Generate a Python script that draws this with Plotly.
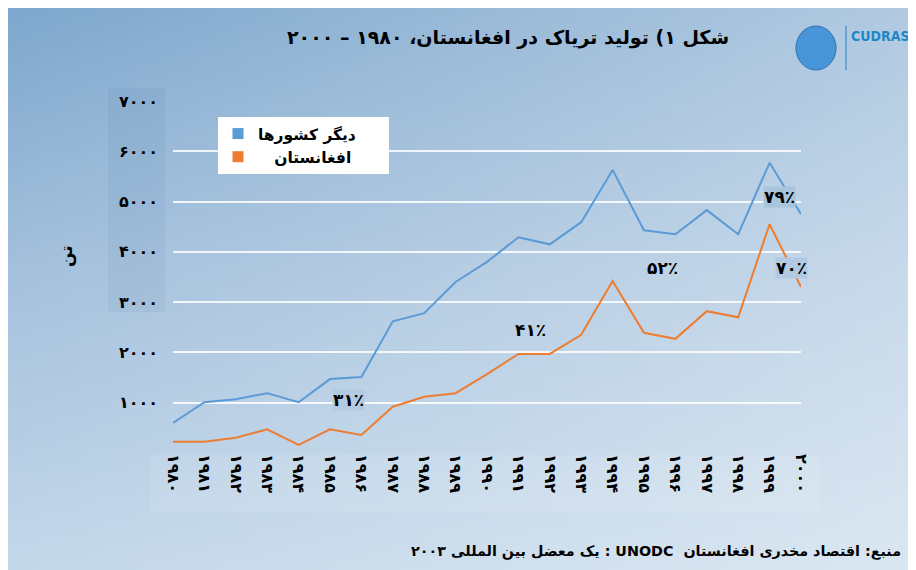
import plotly.graph_objects as go

# opium production (tons)
years = [1980, 1981, 1982, 1983, 1984, 1985, 1986, 1987, 1988, 1989, 1990,
         1991, 1992, 1993, 1994, 1995, 1996, 1997, 1998, 1999, 2000]
year_labels = ["۱۹۸۰", "۱۹۸۱", "۱۹۸۲", "۱۹۸۳", "۱۹۸۴", "۱۹۸۵", "۱۹۸۶",
               "۱۹۸۷", "۱۹۸۸", "۱۹۸۹", "۱۹۹۰", "۱۹۹۱", "۱۹۹۲", "۱۹۹۳",
               "۱۹۹۴", "۱۹۹۵", "۱۹۹۶", "۱۹۹۷", "۱۹۹۸", "۱۹۹۹", "۲۰۰۰"]
other_countries = [600, 1010, 1070, 1190, 1010, 1470, 1510, 2620, 2780, 3400, 3800,
                   4290, 4150, 4590, 5630, 4430, 4350, 4830, 4350, 5770, 4750]
afghanistan = [225, 225, 305, 470, 160, 470, 360, 920, 1120, 1190, 1570,
               1970, 1970, 2350, 3420, 2390, 2270, 2820, 2700, 4550, 3300]

y_ticks = [1000, 2000, 3000, 4000, 5000, 6000, 7000]
y_labels = ["۱۰۰۰", "۲۰۰۰", "۳۰۰۰", "۴۰۰۰", "۵۰۰۰", "۶۰۰۰", "۷۰۰۰"]

# Afghanistan share labels
share_text = ["۳۱٪", "۴۱٪", "۵۲٪", "۷۹٪", "۷۰٪"]
share_x = [1985.6, 1991.4, 1995.6, 1999.3, 1999.7]
share_y = [1050, 2450, 3680, 5090, 3680]

series_names = ["دیگر کشورها", "افغانستان"]
BLUE = "#5b9bd5"
ORANGE = "#ed7d31"
FONT = "DejaVu Sans"

W, H = 916, 570
OFF = 8  # page body margin


def px(x):
    return (x - OFF) / W


def py(y):
    return 1 - (y - OFF) / H


fig = go.Figure()

# background gradient on a full-page helper axis
fig.add_trace(go.Scatter(
    x=[0, 1, 1, 0, 0], y=[0, 0, 1, 1, 0], mode="lines", fill="toself",
    line=dict(width=0),
    fillgradient=dict(type="vertical", start=0, stop=1,
                      colorscale=[[0, "#c4d8ea"], [0.55, "#a3c0dc"], [1, "#7da7cd"]]),
    hoverinfo="skip", showlegend=False, xaxis="x", yaxis="y"))
fig.add_trace(go.Scatter(
    x=[0, 1, 1, 0, 0], y=[0, 0, 1, 1, 0], mode="lines", fill="toself",
    line=dict(width=0),
    fillgradient=dict(type="horizontal", start=0, stop=1,
                      colorscale=[[0, "rgba(255,255,255,0)"], [1, "rgba(255,255,255,0.4)"]]),
    hoverinfo="skip", showlegend=False, xaxis="x", yaxis="y"))
# darker strip behind the y labels, lighter band behind the x labels
fig.add_trace(go.Scatter(
    x=[px(108), px(165), px(165), px(108), px(108)],
    y=[py(312), py(312), py(88), py(88), py(312)],
    mode="lines", fill="toself", line=dict(width=0),
    fillcolor="rgba(40,80,130,0.06)", hoverinfo="skip", showlegend=False,
    xaxis="x", yaxis="y"))
fig.add_trace(go.Scatter(
    x=[px(150), px(820), px(820), px(150), px(150)],
    y=[py(512), py(512), py(455), py(455), py(512)],
    mode="lines", fill="toself", line=dict(width=0),
    fillcolor="rgba(255,255,255,0.10)", hoverinfo="skip", showlegend=False,
    xaxis="x", yaxis="y"))

# data lines
fig.add_trace(go.Scatter(x=years, y=other_countries, mode="lines",
                         line=dict(color=BLUE, width=2), showlegend=False,
                         xaxis="x2", yaxis="y2"))
fig.add_trace(go.Scatter(x=years, y=afghanistan, mode="lines",
                         line=dict(color=ORANGE, width=2), showlegend=False,
                         xaxis="x2", yaxis="y2"))
# legend entries with square markers
NB = "\u00a0"
legend_labels = [series_names[0] + NB * 5, NB * 3 + series_names[1] + NB * 6]
for name, col in zip(legend_labels, [BLUE, ORANGE]):
    fig.add_trace(go.Scatter(x=[None], y=[None], mode="markers", name=name,
                             marker=dict(symbol="square", size=11, color=col),
                             xaxis="x2", yaxis="y2"))

annotations = [
    dict(text="\u202bشکل ۱) تولید تریاک در افغانستان، ۱۹۸۰ – ۲۰۰۰\u202c",
         x=px(508), y=py(38), xref="paper", yref="paper", showarrow=False,
         xanchor="center", yanchor="middle",
         font=dict(family=FONT, size=19, color="black", weight="bold")),
    dict(text="\u202bمنبع: اقتصاد مخدری افغانستان  UNODC : یک معضل بین المللی ۲۰۰۳\u202c",
         x=px(656), y=py(551), xref="paper", yref="paper", xanchor="center",
         yanchor="middle", showarrow=False,
         font=dict(family=FONT, size=14.3, color="black", weight="bold")),
    dict(text="تن", x=px(66), y=py(256), xref="paper", yref="paper",
         xanchor="center", yanchor="middle", textangle=-90, showarrow=False,
         font=dict(family=FONT, size=17, color="black", weight="bold")),
    dict(text="CUDRAS", x=px(849), y=py(36), xref="paper", yref="paper",
         xanchor="left", yanchor="middle", showarrow=False,
         font=dict(family="DejaVu Sans Condensed", size=14, color="#1f86c8",
                   weight="bold")),
]
bgs = ["#b3cbe2", None, None, "#a9c4dd", "#b1cae1"]
for t, xv, yv, bg in zip(share_text, share_x, share_y, bgs):
    annotations.append(dict(text=t, x=xv, y=yv, xref="x2", yref="y2",
                            xanchor="center", yanchor="middle",
                            showarrow=False, bgcolor=bg, borderpad=0,
                            font=dict(family=FONT, size=17, color="black",
                                      weight="bold")))

fig.update_layout(
    width=W, height=H,
    margin=dict(l=0, r=0, t=0, b=0, pad=0, autoexpand=False),
    paper_bgcolor="white", plot_bgcolor="rgba(0,0,0,0)",
    font=dict(family=FONT, color="black"),
    xaxis=dict(domain=[0, 1], range=[0, 1], visible=False, fixedrange=True),
    yaxis=dict(domain=[0, 1], range=[0, 1], visible=False, fixedrange=True),
    xaxis2=dict(domain=[px(173), px(801)], range=[1980, 2000], anchor="y2",
                tickvals=years, ticktext=year_labels, tickangle=90,
                showgrid=False, zeroline=False, showline=False, ticks="",
                automargin=False,
                tickfont=dict(family=FONT, size=16, color="black", weight="bold")),
    yaxis2=dict(domain=[py(453), py(101)], range=[0, 7000], anchor="x2",
                tickvals=y_ticks, ticktext=y_labels, ticklabelstandoff=14,
                showgrid=True, gridcolor="rgba(255,255,255,0.85)", gridwidth=2,
                zeroline=False, showline=False, ticks="", automargin=False,
                tickfont=dict(family=FONT, size=16, color="black", weight="bold")),
    legend=dict(x=px(218), y=py(117), xanchor="left", yanchor="top",
                bgcolor="white", borderwidth=0, itemwidth=30,
                font=dict(family=FONT, size=15.5, color="black", weight="bold")),
    annotations=annotations,
    shapes=[
        dict(type="circle", xref="paper", yref="paper",
             x0=px(796), x1=px(836), y0=py(70), y1=py(26),
             fillcolor="rgba(55,140,215,0.85)", line=dict(color="#2a6fb0", width=1)),
        dict(type="line", xref="paper", yref="paper",
             x0=px(846), x1=px(846), y0=py(70), y1=py(26),
             line=dict(color="#1f86c8", width=1)),
    ],
    showlegend=True,
)

fig.write_html("out.html")
